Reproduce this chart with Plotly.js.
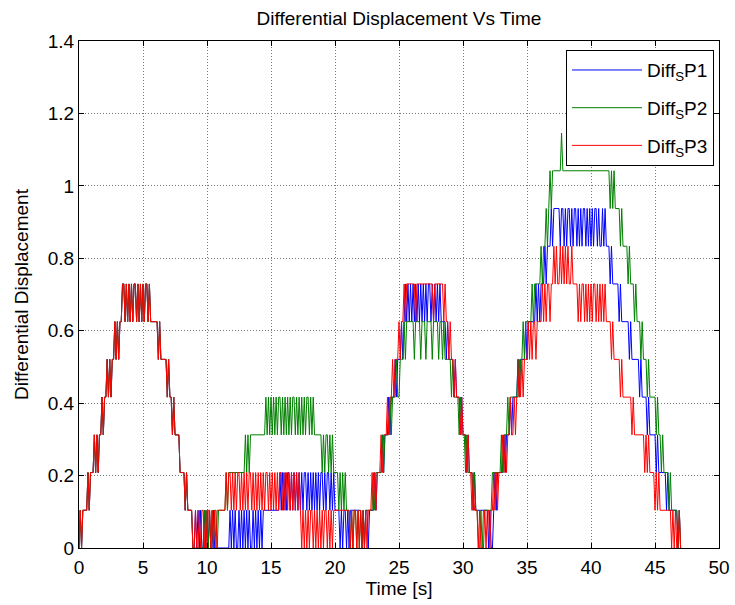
<!DOCTYPE html>
<html>
<head>
<meta charset="utf-8">
<script src="https://cdn.plot.ly/plotly-3.0.1.min.js"></script>
<style>html,body{margin:0;padding:0;background:#fff;}#chart{width:735px;height:605px;}</style>
</head>
<body>
<div id="chart"></div>
<script>
// Sampling interval (s) and quantisation step of the displacement signal
const SAMPLE_DT = 0.1;
const LEVEL_STEP = 0.625 / 6;

// Series names
const seriesNames = ['Diff<sub>S</sub>P1', 'Diff<sub>S</sub>P2', 'Diff<sub>S</sub>P3'];
const seriesColors = ['#0000ff', '#008000', '#ff0000'];

// Quantised levels (one row = 1 s, 10 samples), t = 0.0 .. 8.9 s (shared by all)
const startLevels = [
  0,1,0,1,1,1,1,2,1,2,
  2,2,3,2,3,2,3,3,4,3,
  4,4,5,4,5,4,5,5,6,5,
  6,5,6,6,7,7,6,7,6,7,
  6,7,6,7,7,6,7,6,7,6,
  7,6,7,7,6,7,6,6,6,6,
  6,6,5,6,5,5,5,5,5,4,
  5,4,4,3,4,3,3,3,3,2,
  2,2,2,1,2,1,1,1,1,0
];

// t = 9.0 .. 47.0 s
const levelsP1 = [
  0,1,0,1,0,1,0,0,1,0,
  1,0,1,0,0,1,0,0,0,0,
  0,0,0,0,0,0,0,0,1,0,
  1,0,1,0,0,1,0,1,0,1,
  0,1,0,1,0,0,1,0,1,0,
  1,0,1,0,1,1,1,1,1,1,
  1,1,1,1,1,1,1,2,1,2,
  1,2,1,2,2,1,2,1,2,1,
  2,1,2,1,2,1,2,2,1,2,
  1,2,1,2,1,2,1,2,1,2,
  2,1,2,1,2,2,1,2,1,2,
  1,1,1,1,0,1,0,1,1,0,
  1,0,1,1,1,1,1,1,1,1,
  1,0,1,0,1,1,0,1,1,1,
  1,2,1,2,2,2,2,3,2,3,
  3,3,4,3,4,4,4,5,4,5,
  5,5,6,5,6,7,6,7,6,7,
  6,7,6,7,6,7,6,7,6,7,
  6,7,6,7,7,6,7,6,7,6,
  7,6,7,6,6,6,6,5,6,5,
  5,5,5,4,5,4,4,4,3,4,
  3,3,3,2,3,2,2,2,1,2,
  1,1,1,1,1,1,1,1,1,1,
  0,1,0,0,1,2,1,2,2,2,
  2,2,3,2,3,3,3,4,3,4,
  4,4,4,5,4,5,5,5,5,6,
  5,6,6,6,6,6,6,7,6,7,
  6,7,7,7,8,7,8,8,8,9,
  8,9,9,9,9,9,8,9,9,8,
  9,8,9,9,8,9,8,9,9,8,
  9,8,9,8,9,9,8,9,8,9,
  8,9,8,9,9,8,9,8,8,9,
  8,9,8,8,8,7,8,7,7,7,
  7,7,6,7,6,6,6,6,6,6,
  5,6,5,5,5,5,5,5,4,5,
  4,4,4,4,3,4,3,3,3,3,
  3,2,3,2,2,2,2,2,2,1,
  2,1,1,1,1,1,1,1,0,1,
  0
];

const levelsP2 = [
  0,0,0,0,0,0,0,0,1,0,
  1,0,1,0,1,0,1,1,0,1,
  1,1,1,1,1,2,1,2,2,2,
  2,2,2,2,2,2,2,2,2,2,
  3,2,3,2,3,3,3,3,3,3,
  3,3,3,3,3,3,4,3,4,3,
  4,3,4,3,4,3,4,4,3,4,
  3,4,3,4,3,4,3,4,4,3,
  4,3,4,3,4,3,4,3,4,4,
  3,4,3,4,3,3,3,3,3,3,
  2,3,2,3,3,2,3,2,3,2,
  2,2,2,1,2,1,2,1,2,1,
  1,1,0,1,0,1,1,0,1,0,
  1,0,1,0,1,1,1,1,1,1,
  2,1,2,2,2,2,2,3,2,3,
  3,3,3,4,3,4,4,4,5,4,
  4,5,5,5,6,5,6,6,6,6,
  6,6,5,6,6,6,6,5,6,6,
  6,5,6,6,6,6,5,6,6,6,
  6,5,6,6,5,6,5,5,5,5,
  5,4,5,4,4,4,4,3,4,3,
  3,3,2,3,2,2,2,2,1,2,
  1,1,0,0,1,0,1,1,1,1,
  1,1,1,2,2,2,2,2,2,2,
  3,2,3,3,3,4,3,4,4,4,
  4,4,4,5,4,5,5,6,5,6,
  6,6,6,6,7,6,7,7,7,7,
  7,8,7,8,8,9,8,9,10,9,
  10,10,10,10,10,10,10,11,10,10,
  10,10,10,10,10,10,10,10,10,10,
  10,10,10,10,10,10,10,10,10,10,
  10,10,10,10,10,10,10,10,10,10,
  10,10,10,10,10,9,10,9,10,9,
  9,9,9,8,9,8,8,8,8,7,
  8,7,7,7,6,7,6,6,6,5,
  6,5,5,5,4,5,4,4,4,4,
  4,3,4,3,3,2,3,2,2,2,
  2,1,2,1,1,1,1,1,0,1,
  0
];

const levelsP3 = [
  0,1,0,0,1,0,1,1,0,1,
  0,1,1,0,1,0,1,0,1,1,
  1,1,1,1,1,2,1,2,2,1,
  2,1,2,1,2,2,1,2,1,2,
  1,2,1,2,2,1,2,1,2,1,
  2,1,2,1,2,1,2,2,1,2,
  1,2,1,2,1,2,1,2,2,1,
  2,1,2,1,2,1,2,1,2,1,
  2,1,2,1,0,1,0,1,0,1,
  0,1,1,0,1,0,1,0,1,0,
  1,0,1,1,0,1,0,1,0,1,
  1,1,1,1,1,1,1,1,1,1,
  1,1,0,1,0,1,1,0,1,0,
  1,0,1,0,1,0,1,1,1,2,
  1,2,1,2,2,2,3,2,3,3,
  3,4,3,4,4,5,4,5,5,5,
  6,5,6,6,7,6,7,7,7,7,
  7,7,7,6,7,7,7,7,7,7,
  7,7,7,7,7,7,7,6,7,7,
  7,7,7,7,7,6,7,6,6,5,
  6,5,5,4,5,4,4,4,3,4,
  3,3,3,2,3,2,2,1,2,1,
  1,1,0,1,0,0,0,1,0,1,
  1,0,1,1,2,1,2,1,2,2,
  2,3,2,3,2,3,3,4,3,3,
  4,3,4,4,5,4,5,4,5,5,
  5,6,5,6,5,6,6,5,6,6,
  6,6,7,6,7,6,7,7,6,7,
  7,8,7,8,7,7,8,7,8,7,
  8,7,8,7,7,8,7,7,7,7,
  6,7,6,7,7,6,7,6,7,6,
  7,6,7,7,6,7,6,7,6,7,
  6,7,6,6,6,6,5,6,5,5,
  5,5,5,4,5,4,4,4,4,4,
  4,4,3,4,3,3,3,3,3,3,
  3,3,2,3,2,3,2,2,2,2,
  1,2,1,2,1,1,1,1,1,1,
  1,1,1,0,1,0,1,0,0,1,
  0
];

const xTicks = [0, 5, 10, 15, 20, 25, 30, 35, 40, 45, 50];
const yTicks = [0, 0.2, 0.4, 0.6, 0.8, 1, 1.2, 1.4];
const yTickText = ['0', '0.2', '0.4', '0.6', '0.8', '1', '1.2', '1.4'];

const allLevels = [levelsP1, levelsP2, levelsP3].map(l => startLevels.concat(l));

const traces = allLevels.map((lv, k) => ({
  type: 'scatter',
  mode: 'lines',
  name: seriesNames[k],
  legendgroup: 'g' + k,
  x: lv.map((_, i) => +(i * SAMPLE_DT).toFixed(2)),
  y: lv.map(v => v * LEVEL_STEP),
  line: {color: seriesColors[k], width: 1},
  hoverinfo: 'x+y'
}));

const axisCommon = {
  showline: true, linecolor: '#000', linewidth: 1, mirror: 'ticks',
  ticks: 'inside', ticklen: 5, tickcolor: '#000', tickwidth: 1,
  showgrid: true, gridcolor: '#777777', griddash: '1px,2px', gridwidth: 1,
  zeroline: false, tickfont: {size: 19, color: '#000'}
};

const layout = {
  width: 735, height: 605,
  margin: {l: 79, r: 16, t: 41, b: 57},
  paper_bgcolor: '#fff', plot_bgcolor: '#fff',
  font: {family: 'Liberation Sans, Arial, sans-serif', size: 19, color: '#000'},
  title: {text: 'Differential Displacement Vs Time', font: {size: 19, color: '#000'},
          xref: 'paper', x: 0.5, xanchor: 'center', yref: 'container', y: 0.970, yanchor: 'middle'},
  xaxis: Object.assign({}, axisCommon, {range: [0, 50], tickvals: xTicks, ticktext: xTicks.map(String),
          ticklabelstandoff: 2,
          title: {text: 'Time [s]', font: {size: 19}, standoff: 2}}),
  yaxis: Object.assign({}, axisCommon, {range: [0, 1.4], tickvals: yTicks, ticktext: yTickText,
          title: {text: 'Differential Displacement', font: {size: 19}, standoff: 14}}),
  showlegend: true,
  legend: {x: 0.761, y: 0.982, xanchor: 'left', yanchor: 'top', bgcolor: '#fff',
           bordercolor: '#000', borderwidth: 1, font: {size: 19, color: '#000'},
           itemwidth: 70, tracegroupgap: 10, traceorder: 'grouped'}
};

Plotly.newPlot('chart', traces, layout, {displayModeBar: false, staticPlot: true});
</script>
</body>
</html>
